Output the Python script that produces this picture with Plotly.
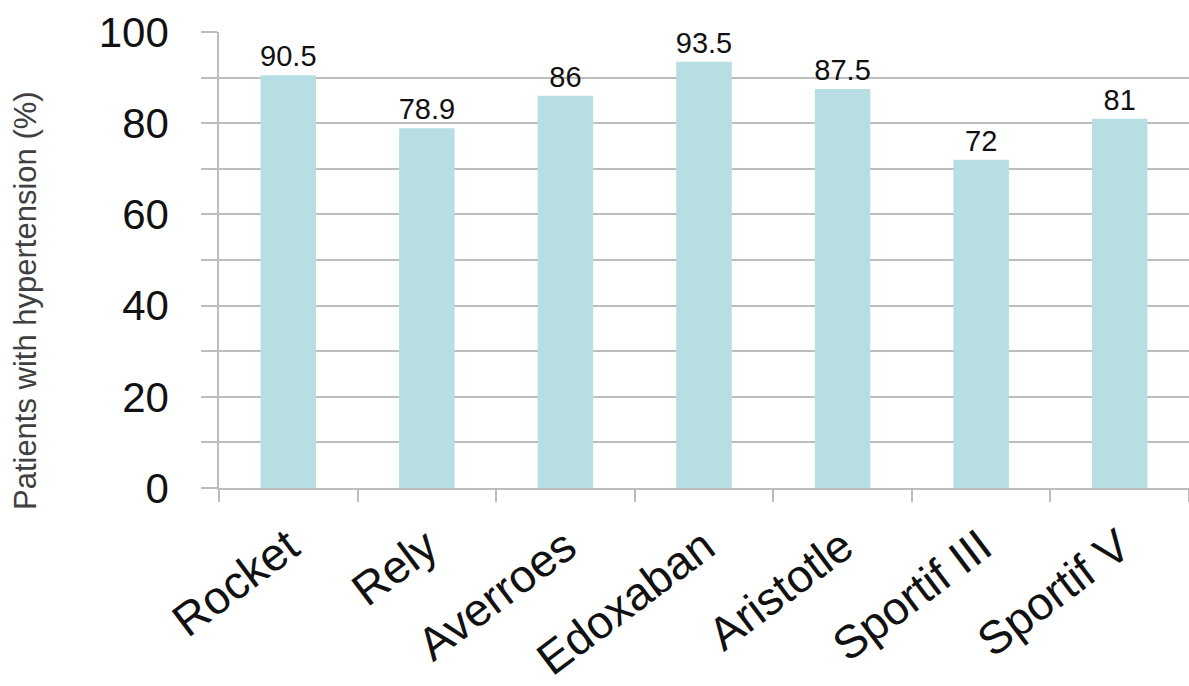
import plotly.graph_objects as go

categories = ["Rocket", "Rely", "Averroes", "Edoxaban", "Aristotle", "Sportif III", "Sportif V"]
values = [90.5, 78.9, 86, 93.5, 87.5, 72, 81]
value_labels = ["90.5", "78.9", "86", "93.5", "87.5", "72", "81"]
y_title = "Patients with hypertension (%)"

grid = "#bdbdbd"
font = "Liberation Sans, Arial, sans-serif"

fig = go.Figure(
    go.Bar(
        x=categories,
        y=values,
        text=value_labels,
        textposition="outside",
        constraintext="none",
        textfont=dict(family=font, size=29, color="#111111"),
        cliponaxis=False,
        marker=dict(color="#b7dee3", line=dict(width=0)),
        width=0.4,
    )
)

fig.update_layout(
    width=1189,
    height=686,
    margin=dict(l=219, r=0, t=32, b=198),
    plot_bgcolor="white",
    paper_bgcolor="white",
    showlegend=False,
    bargap=0.6,
)

fig.update_yaxes(
    range=[0, 100],
    dtick=20,
    tick0=0,
    showgrid=True,
    gridcolor=grid,
    gridwidth=1.5,
    ticks="outside",
    ticklen=16,
    tickcolor=grid,
    tickwidth=1.5,
    showline=True,
    linecolor=grid,
    linewidth=1.5,
    zeroline=False,
    tickfont=dict(family=font, size=42, color="#111111"),
    ticklabelstandoff=24,
    minor=dict(dtick=10, showgrid=True, gridcolor=grid, gridwidth=1.5,
               ticks="outside", ticklen=16, tickcolor=grid, tickwidth=1.5),
    automargin=False,
)

fig.update_xaxes(
    range=[-0.5, 6.5],
    showline=True,
    linecolor=grid,
    linewidth=1.5,
    ticks="outside",
    tickson="boundaries",
    ticklen=12,
    tickcolor=grid,
    tickwidth=1.5,
    tickangle=-37,
    tickfont=dict(family=font, size=46, color="#111111"),
    ticklabelstandoff=12,
    automargin=False,
)

fig.add_annotation(
    text=y_title,
    xref="paper", yref="paper",
    x=-0.2, y=0.41,
    xanchor="center", yanchor="middle",
    textangle=-90,
    showarrow=False,
    font=dict(family=font, size=31, color="#404040"),
)

fig.write_html("out.html")
